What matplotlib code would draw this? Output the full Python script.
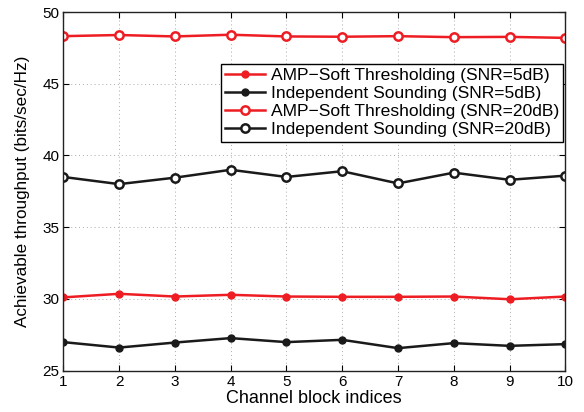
import matplotlib
matplotlib.use("Agg")
import matplotlib.pyplot as plt

plt.rcParams['font.family'] = ['Liberation Sans', 'DejaVu Sans']

blocks = [1, 2, 3, 4, 5, 6, 7, 8, 9, 10]
amp_5db = [30.10, 30.35, 30.16, 30.28, 30.16, 30.14, 30.14, 30.16, 29.97, 30.16]
ind_5db = [26.98, 26.60, 26.95, 27.26, 26.98, 27.14, 26.56, 26.91, 26.72, 26.84]
amp_20db = [48.32, 48.40, 48.30, 48.42, 48.30, 48.28, 48.32, 48.25, 48.27, 48.20]
ind_20db = [38.50, 38.00, 38.45, 39.00, 38.50, 38.90, 38.05, 38.80, 38.30, 38.59]

labels = ["AMP\u2212Soft Thresholding (SNR=5dB)",
          "Independent Sounding (SNR=5dB)",
          "AMP\u2212Soft Thresholding (SNR=20dB)",
          "Independent Sounding (SNR=20dB)"]
xticks = [1, 2, 3, 4, 5, 6, 7, 8, 9, 10]
yticks = [25, 30, 35, 40, 45, 50]

red = '#ee1d23'
black = '#1a1a1a'

fig = plt.figure(figsize=(5.84, 4.12), dpi=100)
ax = fig.add_axes([0.1084, 0.1007, 0.8596, 0.870])

ax.plot(blocks, amp_5db, color=red, lw=1.8, marker='o', ms=5, mfc=red, mec=red, label=labels[0])
ax.plot(blocks, ind_5db, color=black, lw=1.8, marker='o', ms=5, mfc=black, mec=black, label=labels[1])
ax.plot(blocks, amp_20db, color=red, lw=1.8, marker='o', ms=6, mfc='white', mec=red, mew=1.8, label=labels[2])
ax.plot(blocks, ind_20db, color=black, lw=1.8, marker='o', ms=6, mfc='white', mec=black, mew=1.8, label=labels[3])

ax.set_xlim(1, 10)
ax.set_ylim(25, 50)
ax.set_xticks(xticks)
ax.set_yticks(yticks)
ax.tick_params(direction='in', labelsize=11, length=4, top=True, right=True, pad=3)
ax.grid(True, linestyle=(0, (1, 3)), color='#aaaaaa', lw=0.7)
for s in ax.spines.values():
    s.set_linewidth(1.0)
    s.set_color('#222222')

ax.set_xlabel("Channel block indices", fontsize=13, labelpad=1)
ax.set_ylabel("Achievable throughput (bits/sec/Hz)", fontsize=12.3, labelpad=9)

leg = ax.legend(loc='upper right', bbox_to_anchor=(0.996, 0.856), fontsize=12.6,
                frameon=True, fancybox=False, framealpha=1, edgecolor='black',
                handlelength=2.3, handletextpad=0.3, borderpad=0.25, labelspacing=0.16,
                borderaxespad=0)
leg.get_frame().set_linewidth(1.0)

fig.savefig("out.png", dpi=100)
